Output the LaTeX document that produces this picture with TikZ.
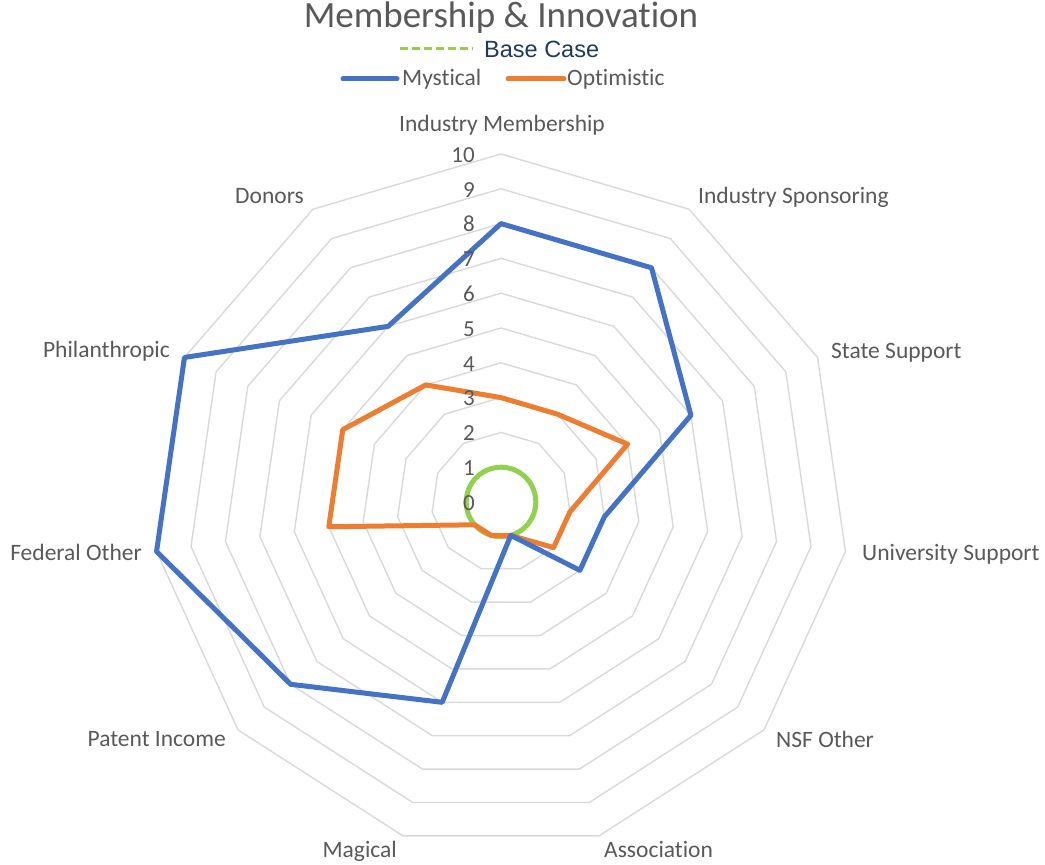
\documentclass[tikz,border=0pt]{standalone}
\usepackage{fontspec}
\setmainfont{Carlito}[Ligatures={NoCommon,NoContextual}]
\newfontfamily\arialfont{Liberation Sans}
\definecolor{gridgray}{HTML}{D9D9D9}
\definecolor{txtgray}{HTML}{595959}
\definecolor{myblue}{HTML}{4472C4}
\definecolor{myorange}{HTML}{ED7D31}
\definecolor{mygreen}{HTML}{92D050}
\definecolor{navy}{HTML}{1F3864}
\begin{document}
\begin{tikzpicture}[x=1pt,y=1pt,
  grid/.style={draw=gridgray,line width=1.4pt,line join=miter},
  series/.style={line width=5pt,line join=round,line cap=round},
  catlabel/.style={text=txtgray,font=\fontsize{23.5}{26}\selectfont,inner sep=0pt},
  numlabel/.style={text=txtgray,font=\fontsize{23}{26}\selectfont,inner sep=0pt,anchor=base east},
  legtext/.style={text=txtgray,font=\fontsize{23.5}{26}\selectfont,inner sep=0pt,anchor=base west}]
\useasboundingbox (0,0) rectangle (1045,865);
\def\u{34.8}
\def\s{32.72727}
\begin{scope}[shift={(501,363)}]
  % rings
  \foreach \k in {1,...,10}{
    \draw[grid] (90:{\k*\u}) \foreach \i in {1,...,10}{ -- ({90-\i*\s}:{\k*\u}) } -- cycle;
  }
  % base case
  \draw[mygreen,line width=5pt] (0,0) circle ({\u});
  % optimistic
  \draw[series,myorange]
    (90:{3*\u}) -- ({90-1*\s}:{3*\u}) -- ({90-2*\s}:{4*\u}) -- ({90-3*\s}:{2*\u})
    -- ({90-4*\s}:{2*\u}) -- ({90-5*\s}:{1*\u}) -- ({90-6*\s}:{1*\u}) -- ({90-7*\s}:{1*\u})
    -- ({90-8*\s}:{5*\u}) -- ({90-9*\s}:{5*\u}) -- ({90-10*\s}:{4*\u}) -- cycle;
  % mystical
  \draw[series,myblue]
    (90:{8*\u}) -- ({90-1*\s}:{8*\u}) -- ({90-2*\s}:{6*\u}) -- ({90-3*\s}:{3*\u})
    -- ({90-4*\s}:{3*\u}) -- ({90-5*\s}:{1*\u}) -- ({90-6*\s}:{6*\u}) -- ({90-7*\s}:{8*\u})
    -- ({90-8*\s}:{10*\u}) -- ({90-9*\s}:{10*\u}) -- ({90-10*\s}:{6*\u}) -- cycle;
\end{scope}
% axis numbers
\foreach \k in {0,...,10}{
  \node[numlabel] (n\k) at (475,{354.7+\k*\u}) {\k};
}
% category labels
\node[catlabel,anchor=base] (c1) at (502,733.5) {Industry Membership};
\node[catlabel,anchor=base west] (c2) at (698,661) {Industry Sponsoring};
\node[catlabel,anchor=base west] (c3) at (831,506) {State Support};
\node[catlabel,anchor=base west] (c4) at (862,304.5) {University Support};
\node[catlabel,anchor=base west] (c5) at (776,117) {NSF Other};
\node[catlabel,anchor=base west] (c6) at (604,7) {Association};
\node[catlabel,anchor=base east] (c7) at (397,7) {Magical};
\node[catlabel,anchor=base east] (c8) at (226,118) {Patent Income};
\node[catlabel,anchor=base east] (c9) at (142,304.5) {Federal Other};
\node[catlabel,anchor=base east] (c10) at (170,507) {Philanthropic};
\node[catlabel,anchor=base east] (c11) at (304,661) {Donors};
% title
\node[text=txtgray,font=\fontsize{37}{40}\selectfont,inner sep=0pt,anchor=base] (title) at (501,837) {Membership \& Innovation};
% legend
\coordinate (g1) at (400,816);
\coordinate (g2) at (473,816);
\draw[mygreen,line width=3pt,dash pattern=on 8pt off 4pt] (g1) -- (g2);
\node[text=navy,font=\arialfont\fontsize{23.5}{26}\selectfont,inner sep=0pt,anchor=base west] (bc) at (484,807) {Base Case};
\coordinate (b1) at (343,786);
\coordinate (b2) at (397,786);
\draw[myblue,line width=5pt,line cap=round] (b1) -- (b2);
\node[legtext] (lm) at (402,779) {Mystical};
\coordinate (o1) at (508,786);
\coordinate (o2) at (564,786);
\draw[myorange,line width=5pt,line cap=round] (o1) -- (o2);
\node[legtext] (lo) at (567,779) {Optimistic};
\end{tikzpicture}
\end{document}
